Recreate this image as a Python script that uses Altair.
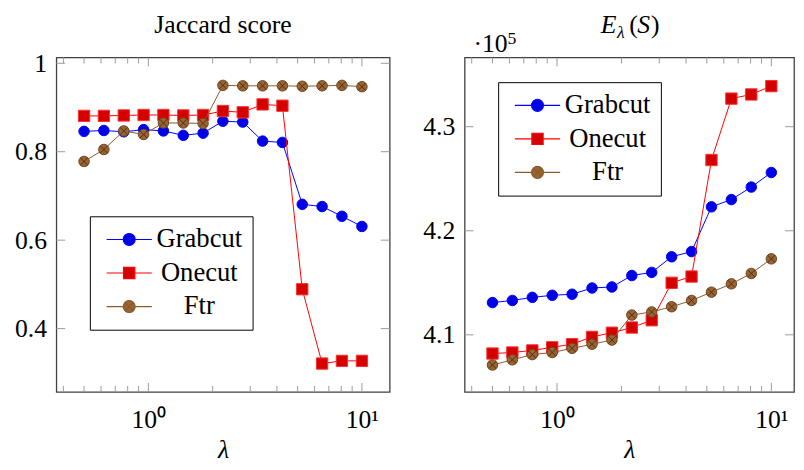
import altair as alt
import pandas as pd

# ---------------- data ----------------
lam = [0.5, 0.619, 0.767, 0.950, 1.176, 1.457, 1.804, 2.234, 2.767, 3.427,
       4.244, 5.256, 6.510, 8.062, 10.0]
series = ["Grabcut", "Onecut", "Ftr"]

jac_grabcut = [0.846, 0.848, 0.845, 0.850, 0.847, 0.837, 0.842, 0.869, 0.867,
               0.824, 0.821, 0.681, 0.676, 0.654, 0.631]
jac_onecut = [0.881, 0.881, 0.882, 0.883, 0.883, 0.882, 0.883, 0.892, 0.889,
              0.907, 0.904, 0.489, 0.321, 0.327, 0.327]
jac_ftr = [0.778, 0.805, 0.847, 0.839, 0.865, 0.865, 0.864, 0.950, 0.949,
           0.949, 0.949, 0.948, 0.949, 0.950, 0.947]

# energy values in units of 1e5
en_grabcut = [4.131, 4.133, 4.136, 4.138, 4.139, 4.145, 4.146, 4.157, 4.160,
              4.175, 4.180, 4.223, 4.230, 4.242, 4.256]
en_onecut = [4.082, 4.083, 4.085, 4.088, 4.091, 4.098, 4.102, 4.107, 4.114,
             4.150, 4.156, 4.268, 4.327, 4.331, 4.339]
en_ftr = [4.071, 4.076, 4.081, 4.083, 4.087, 4.091, 4.095, 4.119, 4.122,
          4.127, 4.133, 4.141, 4.149, 4.159, 4.173]

x_major = [1, 10]
x_minor = [0.4, 0.5, 0.6, 0.7, 0.8, 0.9, 2, 3, 4, 5, 6, 7, 8, 9]
jac_ticks = [0.4, 0.6, 0.8, 1.0]
en_ticks = [4.1, 4.2, 4.3]

title_left = "Jaccard score"
title_right_parts = ["E", "λ", "(", "S", ")"]
exponent_parts = ["·10", "5"]

# ---------------- styles ----------------
FONT = "Liberation Serif"
FS = 26
LINE = {"Grabcut": "#0000ff", "Onecut": "#ff0000", "Ftr": "#8b5a2b"}
FILL = {"Grabcut": "#0000e6", "Onecut": "#d40000", "Ftr": "#9a6432"}
EDGE = {"Grabcut": "#0000ff", "Onecut": "#ff3030", "Ftr": "#6e4520"}
SHAPE = {"Grabcut": "circle", "Onecut": "square", "Ftr": "circle"}
SIZE = {"Grabcut": 113, "Onecut": 132, "Ftr": 113}
CROSS = "M-0.7,-0.7L0.7,0.7M-0.7,0.7L0.7,-0.7"
TICKC = "#9a9a9a"

LEG_PATHS = [
    "M-1,0L1.58,0M3.42,0L6,0M3.42,0A0.92,0.92 0 1,1 1.58,0A0.92,0.92 0 1,1 3.42,0Z",
    "M-1,0L1.63,0M3.37,0L6,0M1.63,-0.87L3.37,-0.87L3.37,0.87L1.63,0.87Z",
    "M-1,0L1.58,0M3.42,0L6,0M3.42,0A0.92,0.92 0 1,1 1.58,0A0.92,0.92 0 1,1 3.42,0Z"
    "M1.9,-0.6L3.1,0.6M1.9,0.6L3.1,-0.6",
]


def txt(s, x, y, size=FS, style="normal", align="left"):
    return alt.Chart(pd.DataFrame({"label": [s]})).mark_text(
        font=FONT, fontSize=size, fontStyle=style, align=align,
        baseline="alphabetic", color="black").encode(
        text="label:N", x=alt.value(x), y=alt.value(y))


def panel(vals, yticks, ydom, xdom, W, H, title_layers, legxy, yfmt):
    rows = []
    for s, v in zip(series, vals):
        for l, y in zip(lam, v):
            rows.append({"lam": l, "value": y, "series": s})
    df = pd.DataFrame(rows)
    tdf = pd.DataFrame({"t": x_major + x_minor,
                        "kind": ["major"] * len(x_major) + ["minor"] * len(x_minor)})
    ydf = pd.DataFrame({"v": yticks})

    xs = alt.Scale(type="log", domain=xdom, nice=False)
    ys = alt.Scale(domain=ydom, nice=False, zero=False)
    xaxis = alt.Axis(values=x_major,
                     labelExpr="datum.value == 1 ? '10⁰' : '10¹'",
                     ticks=False, domain=False, grid=False,
                     labelFontSize=FS, labelPadding=15, labelFont=FONT,
                     title="λ", titleFontStyle="italic", titleFontWeight="normal",
                     titleFontSize=FS, titleFont=FONT, titlePadding=5)
    yaxis = alt.Axis(values=yticks, format=yfmt, ticks=False, domain=False, grid=False,
                     labelFontSize=FS, labelPadding=10, labelFont=FONT, title=None)

    X = alt.X("lam:Q", scale=xs, axis=xaxis)
    Y = alt.Y("value:Q", scale=ys, axis=yaxis)
    Xt = alt.X("t:Q", scale=xs, axis=xaxis)
    Yt = alt.Y("v:Q", scale=ys, axis=yaxis)

    base = alt.Chart(df)
    layers = []
    # inner ticks
    tb = alt.Chart(tdf)
    for kind, ln in (("major", 9), ("minor", 6)):
        t = tb.transform_filter(alt.datum.kind == kind)
        layers.append(t.mark_rule(color=TICKC, strokeWidth=1).encode(
            x=Xt, y=alt.value(0), y2=alt.value(ln)))
        layers.append(t.mark_rule(color=TICKC, strokeWidth=1).encode(
            x=Xt, y=alt.value(H), y2=alt.value(H - ln)))
    yb = alt.Chart(ydf)
    layers.append(yb.mark_rule(color=TICKC, strokeWidth=1).encode(
        y=Yt, x=alt.value(0), x2=alt.value(9)))
    layers.append(yb.mark_rule(color=TICKC, strokeWidth=1).encode(
        y=Yt, x=alt.value(W), x2=alt.value(W - 9)))

    for s in series:
        d = base.transform_filter(alt.datum.series == s)
        layers.append(d.mark_line(color=LINE[s], strokeWidth=1).encode(x=X, y=Y))
        layers.append(d.mark_point(shape=SHAPE[s], size=SIZE[s], filled=True,
                                   fill=FILL[s], stroke=EDGE[s], strokeWidth=1,
                                   opacity=1).encode(x=X, y=Y))
        if s == "Ftr":
            layers.append(d.mark_point(shape=CROSS, size=113, filled=False,
                                       stroke="#4e3015", strokeWidth=1,
                                       opacity=1).encode(x=X, y=Y))

    layers.extend(title_layers)

    L = alt.Legend(title=None, orient="none", legendX=legxy[0], legendY=legxy[1],
                   strokeColor="black", fillColor="white", padding=10,
                   labelFont=FONT, labelFontSize=27, labelColor="black",
                   labelAlign="center", labelOffset=74, labelLimit=400,
                   labelExpr="datum.label + '\u2003\u2005\u2004\u2006'",
                   symbolSize=172, symbolStrokeWidth=1.2, symbolOpacity=1,
                   rowPadding=6, cornerRadius=0)
    leg = base.transform_filter("false").mark_point(
        filled=False, opacity=1, size=172, strokeWidth=1).encode(
        color=alt.Color("series:N", scale=alt.Scale(domain=series,
                        range=[LINE[s] for s in series]), legend=L),
        fill=alt.Fill("series:N", scale=alt.Scale(domain=series,
                      range=[FILL[s] for s in series]), legend=L),
        shape=alt.Shape("series:N", scale=alt.Scale(domain=series, range=LEG_PATHS),
                        legend=L),
    )
    layers.append(leg)

    return alt.layer(*layers).properties(width=W, height=H)


WL, WR, H = 338, 339, 339
WR = 334
left_titles = [txt(title_left, WL / 2, -25, align="center")]
e, l, po, s_, pc = title_right_parts
right_titles = [
    txt(e, 138, -25, style="italic"),
    txt(l, 154.5, -20, size=18, style="italic"),
    txt(po, 167, -25),
    txt(s_, 175, -25, style="italic"),
    txt(pc, 189, -25),
    txt(exponent_parts[0], 9, -6),
    txt(exponent_parts[1], 43.5, -14, size=18),
]

left = panel([jac_grabcut, jac_onecut, jac_ftr], jac_ticks, [0.257, 1.013],
             [0.3707, 13.49], WL, H, left_titles, (34, 161), ".1~f")
right = panel([en_grabcut, en_onecut, en_ftr], en_ticks, [4.0452, 4.3665],
              [0.3707, 12.76], WR, H, right_titles, (34, 25), ".1f")

chart = alt.hconcat(left, right, spacing=76, bounds="flush").resolve_scale(
    x="independent", y="independent", color="independent",
    fill="independent", shape="independent").resolve_legend(
    color="independent", fill="independent", shape="independent").configure_view(
    stroke="#404040", strokeWidth=1.3).configure_axis(
    labelFont=FONT, titleFont=FONT).properties(
    padding={"left": 5, "top": 0, "right": 0, "bottom": 0})

chart.save("out.html", embed_options={"renderer": "svg", "actions": False})
